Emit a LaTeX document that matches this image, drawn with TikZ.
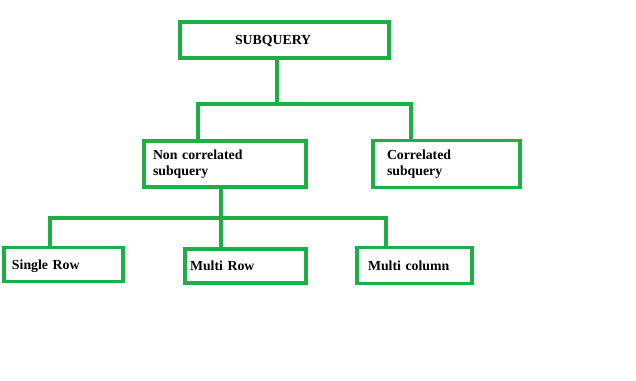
\documentclass[tikz,border=0pt]{standalone}
\usepackage{fontspec}
\setmainfont{Liberation Serif}
\definecolor{boxgreen}{RGB}{30,174,70}
\tikzset{
  box/.style={draw=boxgreen, line width=3.5pt, fill=white, align=left,
    inner ysep=0pt, font=\bfseries\fontsize{13.8}{16.5}\selectfont},
  onerow/.style={box, text depth=0pt},
  link/.style={draw=boxgreen, line width=3.5pt}
}
\begin{document}
\begin{tikzpicture}[x=1pt,y=-1pt]
\useasboundingbox (0,0) rectangle (636,380);
% boxes
\node[onerow, minimum height=36pt, inner xsep=55pt, text width=99pt] (subq) at (284.5,40) {SUBQUERY};
\node[box, minimum height=46pt, inner xsep=9pt, text width=144pt] (noncor) at (225,164) {Non correlated\\subquery};
\node[box, minimum height=47pt, inner xsep=14pt, text width=119pt] (cor) at (446.5,164) {Correlated\\subquery};
\node[onerow, minimum height=34pt, inner xsep=8pt, text width=103pt] (single) at (63.5,264.5) {Single Row};
\node[onerow, minimum height=34pt, inner xsep=5pt, text width=111pt] (multi) at (245.5,266) {Multi Row};
\node[onerow, minimum height=36pt, inner xsep=11pt, text width=93pt] (multicol) at (414.5,265.5) {Multi column};
% junctions
\coordinate (j1) at (277,104);
\coordinate (j1l) at (198,104);
\coordinate (j1r) at (411,104);
\coordinate (j2) at (221,218);
\coordinate (j2l) at (50,218);
\coordinate (j2r) at (386,218);
% links
\draw[link] (j1 |- subq.south) -- (j1);
\draw[link] (j1l |- noncor.north) -- (j1l) -- (j1r) -- (j1r |- cor.north);
\draw[link] (j2 |- noncor.south) -- (j2) -- (j2 |- multi.north);
\draw[link] (j2l |- single.north) -- (j2l) -- (j2r) -- (j2r |- multicol.north);
\end{tikzpicture}
\end{document}
